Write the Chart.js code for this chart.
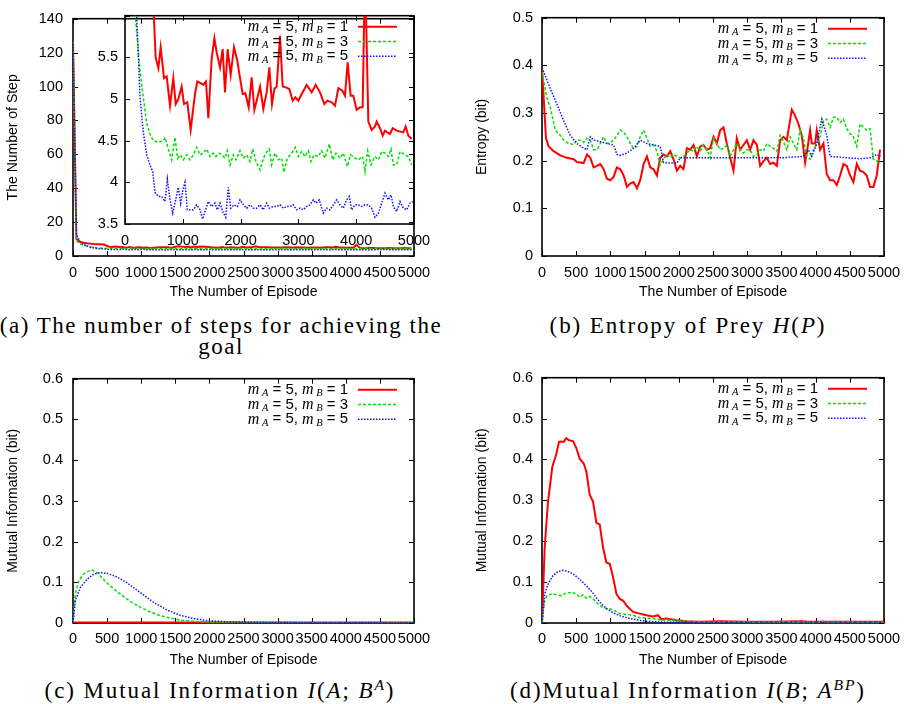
<!DOCTYPE html>
<html lang="en">
<head>
<meta charset="UTF-8" />
<title>Steps, entropy and mutual information per episode</title>
<script src="https://cdn.jsdelivr.net/npm/chart.js"></script>
<style>
  body { margin: 0; background: #fff; width: 916px; height: 704px; position: relative; overflow: hidden; }
  canvas { position: absolute; }
  .cap { position: absolute; font-family: "Liberation Serif", "Times New Roman", serif; font-size: 23px; letter-spacing: 1.9px;
         text-align: center; color: #000; white-space: nowrap; line-height: 21px; }
  .cap sup { font-size: 0.68em; line-height: 0; vertical-align: 0.5em; }
</style>
</head>
<body>

<canvas id="cA" width="440" height="310" style="left:0;top:0"></canvas>
<canvas id="cInset" width="360" height="260" style="left:80px;top:0"></canvas>
<canvas id="cB" width="456" height="310" style="left:460px;top:0"></canvas>
<canvas id="cC" width="440" height="310" style="left:0;top:360px"></canvas>
<canvas id="cD" width="456" height="310" style="left:460px;top:360px"></canvas>

<div class="cap" style="left:-4px;top:315px;width:450px;letter-spacing:1.5px">(a) The number of steps for achieving the<br>goal</div>
<div class="cap" style="left:460px;top:315px;width:456px">(b) Entropy of Prey <i>H</i>(<i>P</i>)</div>
<div class="cap" style="left:0;top:680px;width:440px">(c) Mutual Information <i>I</i>(<i>A</i>; <i>B</i><sup><i>A</i></sup>)</div>
<div class="cap" style="left:460px;top:680px;width:456px">(d)Mutual Information <i>I</i>(<i>B</i>; <i>A</i><sup><i>BP</i></sup>)</div>

<script>
// legend: m_A = 5, m_B = 1 / 3 / 5
const mA = 5;
const mB = [1, 3, 5];

// (a) number of steps per episode (main plot + inset zoom)
const stepsRedX = [0, 50, 100, 150, 200, 250, 300, 350, 400, 450, 530, 577, 617, 675, 721, 779, 836, 877, 923, 980, 1021, 1078, 1136, 1211, 1251, 1309, 1355, 1401, 1442, 1499, 1546, 1586, 1644, 1690, 1730, 1776, 1828, 1886, 1943, 1990, 2036, 2082, 2140, 2191, 2238, 2278, 2336, 2393, 2451, 2497, 2543, 2584, 2624, 2682, 2728, 2785, 2843, 2901, 2947, 2999, 3057, 3143, 3230, 3299, 3374, 3449, 3501, 3576, 3633, 3691, 3760, 3806, 3852, 3904, 3950, 4008, 4066, 4112, 4152, 4210, 4268, 4325, 4354, 4412, 4458, 4498, 4585, 4631, 4700, 4815, 4856, 4902, 4960];
const stepsRedY = [127, 10, 8.5, 7.8, 7.5, 7.3, 7.1, 7.0, 6.9, 6.8, 5.5, 5.37, 5.62, 5.25, 5.27, 4.92, 5.25, 4.94, 5.0, 5.15, 4.94, 4.96, 4.63, 5.06, 5.21, 5.19, 5.17, 5.21, 4.77, 5.48, 5.73, 5.56, 5.38, 5.6, 5.08, 5.6, 5.29, 5.62, 5.46, 5.25, 5.06, 5.07, 4.9, 5.26, 4.87, 4.98, 5.15, 4.88, 5.08, 5.38, 4.94, 5.12, 5.15, 5.76, 5.15, 5.14, 5.12, 4.98, 5.02, 4.98, 5.06, 5.17, 5.08, 5.17, 5.08, 4.94, 4.98, 4.96, 4.92, 5.13, 5.1, 5.04, 5.44, 5.04, 5.04, 4.87, 4.9, 4.9, 6.6, 4.73, 4.63, 4.67, 4.73, 4.65, 4.56, 4.62, 4.58, 4.65, 4.62, 4.6, 4.67, 4.56, 4.52];
const stepsGreenX = [0, 50, 100, 150, 173, 260, 317, 375, 432, 490, 577, 663, 692, 750, 807, 865, 911, 963, 1009, 1067, 1125, 1182, 1240, 1298, 1355, 1413, 1471, 1528, 1574, 1632, 1672, 1730, 1770, 1817, 1874, 1920, 1990, 2047, 2105, 2163, 2209, 2266, 2336, 2393, 2439, 2497, 2537, 2595, 2653, 2710, 2751, 2808, 2883, 2947, 2999, 3057, 3114, 3172, 3218, 3270, 3345, 3402, 3460, 3535, 3593, 3650, 3720, 3777, 3847, 3904, 3979, 4037, 4112, 4152, 4198, 4256, 4325, 4383, 4441, 4498, 4556, 4602, 4642, 4700, 4758, 4844, 4902, 4960];
const stepsGreenY = [127, 9, 7.2, 6.4, 6.05, 5.33, 5.02, 4.71, 4.58, 4.5, 4.48, 4.5, 4.54, 4.4, 4.27, 4.54, 4.29, 4.33, 4.27, 4.33, 4.27, 4.33, 4.42, 4.33, 4.35, 4.4, 4.31, 4.35, 4.31, 4.35, 4.33, 4.29, 4.38, 4.21, 4.33, 4.27, 4.38, 4.29, 4.33, 4.25, 4.4, 4.25, 4.15, 4.29, 4.35, 4.4, 4.21, 4.35, 4.27, 4.29, 4.12, 4.29, 4.35, 4.42, 4.31, 4.37, 4.31, 4.38, 4.25, 4.33, 4.31, 4.38, 4.29, 4.46, 4.27, 4.35, 4.29, 4.35, 4.19, 4.33, 4.29, 4.27, 4.31, 4.13, 4.38, 4.21, 4.31, 4.27, 4.37, 4.35, 4.31, 4.4, 4.21, 4.21, 4.37, 4.33, 4.31, 4.21];
const stepsBlueX = [0, 50, 100, 150, 202, 260, 317, 375, 432, 479, 519, 577, 634, 692, 732, 779, 825, 877, 923, 963, 998, 1038, 1078, 1125, 1182, 1240, 1298, 1344, 1384, 1442, 1499, 1557, 1597, 1644, 1701, 1742, 1788, 1828, 1886, 1943, 1990, 2047, 2105, 2163, 2220, 2278, 2336, 2393, 2451, 2497, 2566, 2624, 2682, 2739, 2797, 2854, 2912, 2970, 3028, 3085, 3143, 3201, 3258, 3304, 3362, 3431, 3489, 3547, 3604, 3662, 3720, 3777, 3835, 3881, 3921, 3979, 4037, 4094, 4152, 4210, 4268, 4325, 4383, 4441, 4498, 4556, 4602, 4642, 4700, 4758, 4815, 4873, 4931, 4977];
const stepsBlueY = [127, 13, 8.5, 6.9, 6.0, 5.02, 4.6, 4.33, 4.21, 4.13, 3.88, 3.83, 3.83, 3.77, 4.04, 3.79, 3.63, 3.79, 3.94, 3.75, 3.9, 4.0, 3.67, 3.67, 3.67, 3.73, 3.67, 3.56, 3.65, 3.77, 3.71, 3.75, 3.67, 3.75, 3.63, 3.58, 3.94, 3.69, 3.73, 3.71, 3.79, 3.73, 3.69, 3.73, 3.69, 3.69, 3.73, 3.67, 3.75, 3.69, 3.71, 3.71, 3.73, 3.69, 3.71, 3.71, 3.73, 3.67, 3.69, 3.67, 3.71, 3.73, 3.79, 3.75, 3.79, 3.63, 3.69, 3.67, 3.73, 3.79, 3.73, 3.69, 3.79, 3.83, 3.67, 3.73, 3.73, 3.71, 3.73, 3.73, 3.69, 3.58, 3.63, 3.75, 3.87, 3.79, 3.85, 3.71, 3.65, 3.77, 3.69, 3.67, 3.75, 3.77];

// (b) entropy of prey
const entRedX = [0, 58, 97, 170, 268, 365, 463, 511, 609, 657, 706, 755, 803, 852, 901, 949, 998, 1047, 1095, 1144, 1193, 1242, 1290, 1339, 1388, 1436, 1485, 1534, 1582, 1631, 1680, 1728, 1777, 1826, 1875, 1923, 1972, 2021, 2069, 2118, 2167, 2215, 2264, 2313, 2361, 2410, 2459, 2507, 2556, 2605, 2654, 2702, 2751, 2800, 2848, 2897, 2946, 2995, 3043, 3092, 3141, 3189, 3238, 3287, 3336, 3384, 3433, 3482, 3530, 3579, 3652, 3701, 3750, 3798, 3847, 3871, 3920, 3944, 3993, 4017, 4066, 4115, 4163, 4212, 4261, 4310, 4358, 4407, 4456, 4504, 4553, 4602, 4650, 4699, 4748, 4796, 4845, 4894, 4942];
const entRedY = [0.395, 0.247, 0.23, 0.22, 0.211, 0.206, 0.203, 0.197, 0.195, 0.213, 0.206, 0.186, 0.189, 0.193, 0.182, 0.162, 0.159, 0.166, 0.186, 0.182, 0.169, 0.145, 0.152, 0.155, 0.142, 0.159, 0.193, 0.209, 0.186, 0.182, 0.169, 0.206, 0.213, 0.209, 0.22, 0.203, 0.179, 0.189, 0.182, 0.226, 0.223, 0.233, 0.209, 0.23, 0.233, 0.223, 0.226, 0.25, 0.236, 0.264, 0.27, 0.236, 0.206, 0.179, 0.247, 0.223, 0.233, 0.243, 0.223, 0.243, 0.233, 0.189, 0.199, 0.206, 0.193, 0.196, 0.189, 0.243, 0.25, 0.243, 0.307, 0.294, 0.277, 0.253, 0.196, 0.216, 0.264, 0.236, 0.236, 0.264, 0.223, 0.236, 0.172, 0.159, 0.159, 0.149, 0.169, 0.193, 0.189, 0.169, 0.155, 0.193, 0.179, 0.176, 0.169, 0.145, 0.145, 0.169, 0.223];
const entGreenX = [0, 73, 122, 195, 268, 316, 390, 463, 511, 560, 609, 657, 706, 755, 803, 852, 901, 949, 998, 1047, 1095, 1144, 1193, 1242, 1290, 1339, 1388, 1436, 1485, 1534, 1582, 1631, 1680, 1728, 1777, 1826, 1875, 1923, 1972, 2021, 2069, 2118, 2167, 2215, 2264, 2313, 2361, 2410, 2459, 2507, 2556, 2605, 2654, 2702, 2751, 2800, 2848, 2897, 2946, 2995, 3043, 3092, 3141, 3189, 3238, 3287, 3336, 3384, 3433, 3482, 3530, 3579, 3628, 3676, 3725, 3774, 3822, 3871, 3920, 3968, 4017, 4066, 4115, 4163, 4212, 4261, 4310, 4358, 4407, 4456, 4504, 4553, 4602, 4650, 4699, 4748, 4796, 4845, 4894, 4952];
const entGreenY = [0.385, 0.331, 0.311, 0.264, 0.253, 0.243, 0.236, 0.234, 0.243, 0.243, 0.238, 0.247, 0.243, 0.223, 0.223, 0.236, 0.25, 0.236, 0.238, 0.243, 0.253, 0.264, 0.26, 0.25, 0.236, 0.226, 0.23, 0.25, 0.264, 0.247, 0.23, 0.233, 0.22, 0.191, 0.203, 0.213, 0.206, 0.213, 0.209, 0.206, 0.209, 0.216, 0.223, 0.22, 0.23, 0.22, 0.233, 0.223, 0.206, 0.247, 0.236, 0.223, 0.226, 0.233, 0.209, 0.223, 0.236, 0.223, 0.216, 0.223, 0.223, 0.209, 0.213, 0.223, 0.22, 0.236, 0.23, 0.226, 0.22, 0.253, 0.24, 0.223, 0.25, 0.236, 0.223, 0.264, 0.247, 0.209, 0.203, 0.223, 0.236, 0.25, 0.284, 0.287, 0.27, 0.291, 0.291, 0.28, 0.287, 0.267, 0.257, 0.25, 0.23, 0.277, 0.27, 0.264, 0.267, 0.203, 0.199, 0.203];
const entBlueX = [0, 122, 219, 316, 414, 511, 609, 657, 706, 755, 852, 949, 1047, 1095, 1144, 1242, 1339, 1436, 1534, 1631, 1728, 1777, 1875, 1972, 2021, 2500, 3000, 3500, 3822, 3895, 3944, 4017, 4090, 4163, 4212, 4310, 4456, 4650, 4796, 4894, 4952];
const entBlueY = [0.395, 0.351, 0.318, 0.284, 0.253, 0.236, 0.226, 0.223, 0.25, 0.243, 0.24, 0.236, 0.233, 0.213, 0.211, 0.216, 0.226, 0.243, 0.236, 0.233, 0.23, 0.196, 0.195, 0.195, 0.206, 0.206, 0.206, 0.206, 0.209, 0.223, 0.209, 0.236, 0.287, 0.253, 0.209, 0.208, 0.206, 0.204, 0.206, 0.213, 0.209];

// (c) mutual information I(A; B^A)
const miaRedX = [0, 5000];
const miaRedY = [0.001, 0.001];
const miaGreenX = [0, 34, 83, 156, 229, 278, 351, 449, 546, 693, 839, 985, 1132, 1278, 1424, 1620, 1863, 2351, 2839, 3500, 4000, 5000];
const miaGreenY = [0, 0.071, 0.103, 0.12, 0.128, 0.13, 0.124, 0.107, 0.091, 0.071, 0.053, 0.039, 0.027, 0.018, 0.012, 0.006, 0.003, 0.0016, 0.001, 0.0005, 0.0003, 0.0002];
const miaBlueX = [0, 34, 107, 205, 302, 400, 497, 644, 790, 985, 1180, 1376, 1571, 1766, 1961, 2254, 2644, 3327, 4000, 5000];
const miaBlueY = [0, 0.055, 0.087, 0.107, 0.12, 0.124, 0.122, 0.113, 0.099, 0.075, 0.051, 0.032, 0.019, 0.011, 0.006, 0.003, 0.0016, 0.0008, 0.0004, 0.0002];

// (d) mutual information I(B; A^BP)
const mibRedX = [0, 39, 88, 151, 210, 249, 283, 317, 356, 395, 454, 502, 551, 610, 649, 698, 746, 795, 844, 893, 941, 990, 1039, 1088, 1136, 1185, 1234, 1283, 1332, 1429, 1527, 1624, 1697, 1746, 1819, 1966, 2112, 2307, 2600, 3000, 3400, 3800, 3900, 4200, 4600, 5000];
const mibRedY = [0, 0.184, 0.297, 0.382, 0.414, 0.443, 0.444, 0.443, 0.452, 0.447, 0.445, 0.428, 0.402, 0.39, 0.37, 0.313, 0.297, 0.245, 0.241, 0.184, 0.148, 0.145, 0.112, 0.071, 0.059, 0.055, 0.043, 0.035, 0.027, 0.023, 0.019, 0.016, 0.019, 0.009, 0.011, 0.0065, 0.004, 0.003, 0.004, 0.003, 0.003, 0.004, 0.003, 0.003, 0.003, 0.003];
const mibGreenX = [0, 39, 73, 137, 210, 283, 356, 454, 502, 551, 600, 649, 698, 746, 819, 893, 990, 1039, 1136, 1234, 1332, 1429, 1527, 1624, 1722, 1868, 2015, 2210, 2698, 3200, 3500, 3550, 3600, 4050, 4100, 4150, 4400, 4450, 4500, 5000];
const mibGreenY = [0, 0.055, 0.067, 0.071, 0.069, 0.067, 0.074, 0.074, 0.071, 0.063, 0.069, 0.061, 0.065, 0.059, 0.047, 0.037, 0.035, 0.032, 0.023, 0.021, 0.019, 0.013, 0.012, 0.011, 0.008, 0.0065, 0.005, 0.003, 0.0024, 0.002, 0.002, 0.005, 0.002, 0.002, 0.005, 0.002, 0.002, 0.005, 0.002, 0.002];
const mibBlueX = [0, 39, 88, 161, 234, 307, 380, 454, 551, 649, 746, 844, 941, 1039, 1136, 1283, 1478, 1722, 2210, 3000, 5000];
const mibBlueY = [0, 0.071, 0.095, 0.116, 0.126, 0.129, 0.126, 0.12, 0.107, 0.091, 0.073, 0.051, 0.035, 0.025, 0.018, 0.011, 0.005, 0.0024, 0.0008, 0.0003, 0.0001];

Chart.defaults.font.family = '"Liberation Sans", Arial, sans-serif';
Chart.defaults.font.size = 14;
Chart.defaults.color = '#000';
Chart.defaults.animation = false;

const RED = '#ff0000', GREEN = '#00e000', BLUE = '#1010ff';
const tickFont = { size: 14.5 };

function pts(xs, ys) { return xs.map((x, i) => ({ x: x, y: ys[i] })); }

function series(r, g, b) {
  return [
    { data: r, borderColor: RED, borderWidth: 2, order: 2 },
    { data: g, borderColor: GREEN, borderWidth: 1.5, borderDash: [3, 2], order: 1 },
    { data: b, borderColor: BLUE, borderWidth: 1.5, borderDash: [1.5, 1.5], order: 0 }
  ].map(d => Object.assign(d, { pointRadius: 0, tension: 0, fill: false }));
}

// gnuplot style box with inward ticks on all four sides
const framePlugin = {
  id: 'frame',
  beforeDatasetsDraw(chart) {
    const { ctx, chartArea: a, scales: { x, y } } = chart;
    const t = 5;
    ctx.save();
    ctx.strokeStyle = '#000';
    ctx.lineWidth = 1;
    ctx.beginPath();
    x.ticks.forEach(tk => {
      const px = Math.round(x.getPixelForValue(tk.value)) + 0.5;
      ctx.moveTo(px, a.bottom); ctx.lineTo(px, a.bottom - t);
      ctx.moveTo(px, a.top); ctx.lineTo(px, a.top + t);
    });
    y.ticks.forEach(tk => {
      const py = Math.round(y.getPixelForValue(tk.value)) + 0.5;
      ctx.moveTo(a.left, py); ctx.lineTo(a.left + t, py);
      ctx.moveTo(a.right, py); ctx.lineTo(a.right - t, py);
    });
    ctx.stroke();
    ctx.lineWidth = 1.6;
    ctx.strokeRect(a.left, a.top, a.right - a.left, a.bottom - a.top);
    ctx.restore();
  }
};

// key: "m_A = 5, m_B = k" with a line sample, right of the plot
const keyPlugin = {
  id: 'mkey',
  afterDraw(chart, args, opts) {
    if (!opts.show) return;
    const { ctx, chartArea: a } = chart;
    const serif = 'italic 16px "Liberation Serif", serif';
    const sub = 'italic 10.5px "Liberation Serif", serif';
    const sans = '15px "Liberation Sans", Arial, sans-serif';
    chart.data.datasets.forEach((ds, i) => {
      const yc = a.top + 11 + i * 14.8;
      const parts = [
        ['m', serif, 0, 0], ['A', sub, 4, 2.5], [' = ' + mA + ', ', sans, 0, 0],
        ['m', serif, 0, 0], ['B', sub, 4, 2.5], [' = ' + mB[i], sans, 0, 0]
      ];
      ctx.save();
      ctx.fillStyle = '#000';
      ctx.textBaseline = 'middle';
      let w = 0;
      parts.forEach(p => { ctx.font = p[1]; w += p[3] + ctx.measureText(p[0]).width; });
      let xx = a.right - 66 - w;
      parts.forEach(p => {
        ctx.font = p[1];
        xx += p[3];
        ctx.fillText(p[0], xx, yc + p[2] + (p[1] === serif ? 0.5 : 0));
        xx += ctx.measureText(p[0]).width;
      });
      ctx.strokeStyle = ds.borderColor;
      ctx.lineWidth = ds.borderWidth;
      ctx.setLineDash(ds.borderDash || []);
      ctx.beginPath();
      ctx.moveTo(a.right - 56, yc);
      ctx.lineTo(a.right - 17, yc);
      ctx.stroke();
      ctx.restore();
    });
  }
};

const plainLabel = v => String(Math.round(v * 10) / 10);

function makeChart(id, datasets, o) {
  return new Chart(document.getElementById(id), {
    type: 'line',
    data: { datasets: datasets },
    plugins: [framePlugin, keyPlugin],
    options: {
      responsive: false,
      layout: { padding: { top: o.top, right: o.right, left: 0, bottom: 0 } },
      plugins: { legend: { display: false }, tooltip: { enabled: false }, mkey: { show: o.key } },
      scales: {
        x: {
          type: 'linear', min: 0, max: 5000,
          grid: { display: false, drawTicks: false }, border: { display: false },
          ticks: { stepSize: o.xStep, autoSkip: false, maxRotation: 0, padding: o.xPad, font: tickFont, callback: v => String(v) },
          title: { display: !!o.xTitle, text: o.xTitle, padding: { top: 0, bottom: o.xTitlePad } },
          afterFit: s => { s.height = o.xH; }
        },
        y: {
          min: o.yMin, max: o.yMax,
          grid: { display: false, drawTicks: false }, border: { display: false },
          ticks: { stepSize: o.yStep, padding: o.yPad, font: tickFont, callback: o.yCb || plainLabel },
          title: { display: !!o.yTitle, text: o.yTitle, padding: { top: o.yTitlePad, bottom: 0 } },
          afterFit: s => { s.width = o.yW; }
        }
      }
    }
  });
}

const episode = 'The Number of Episode';

makeChart('cA', series(pts(stepsRedX, stepsRedY), pts(stepsGreenX, stepsGreenY), pts(stepsBlueX, stepsBlueY)), {
  top: 9, right: 26, xH: 54, yW: 73, xStep: 500, xPad: 8, xTitle: episode, xTitlePad: 9,
  yMin: 0, yMax: 140, yStep: 20, yPad: 10, yTitle: 'The Number of Step', yTitlePad: 4.6, key: false
});

makeChart('cInset', series(pts(stepsRedX, stepsRedY), pts(stepsGreenX, stepsGreenY), pts(stepsBlueX, stepsBlueY)), {
  top: 9, right: 26, xH: 36, yW: 45, xStep: 1000, xPad: 8, xTitle: '', xTitlePad: 0,
  yMin: 3.5, yMax: 6, yStep: 0.5, yPad: 7, yTitle: '', yTitlePad: 0, key: true,
  yCb: v => (v >= 6 ? '' : plainLabel(v))
});

makeChart('cB', series(pts(entRedX, entRedY), pts(entGreenX, entGreenY), pts(entBlueX, entBlueY)), {
  top: 10, right: 32, xH: 54, yW: 82, xStep: 500, xPad: 8, xTitle: episode, xTitlePad: 9,
  yMin: 0, yMax: 0.5, yStep: 0.1, yPad: 9, yTitle: 'Entropy (bit)', yTitlePad: 13.6, key: true
});

makeChart('cC', series(pts(miaRedX, miaRedY), pts(miaGreenX, miaGreenY), pts(miaBlueX, miaBlueY)), {
  top: 15, right: 26, xH: 47, yW: 73, xStep: 500, xPad: 7, xTitle: episode, xTitlePad: 1.6,
  yMin: 0, yMax: 0.6, yStep: 0.1, yPad: 10, yTitle: 'Mutual Information (bit)', yTitlePad: 4.6, key: true
});

makeChart('cD', series(pts(mibRedX, mibRedY), pts(mibGreenX, mibGreenY), pts(mibBlueX, mibBlueY)), {
  top: 15, right: 32, xH: 47, yW: 82, xStep: 500, xPad: 7, xTitle: episode, xTitlePad: 1.6,
  yMin: 0, yMax: 0.6, yStep: 0.1, yPad: 9, yTitle: 'Mutual Information (bit)', yTitlePad: 13.6, key: true
});
</script>
</body>
</html>
